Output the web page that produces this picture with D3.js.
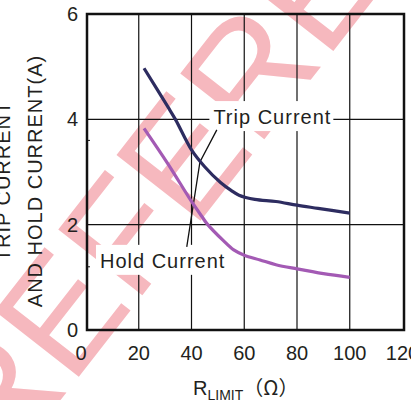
<!DOCTYPE html>
<html>
<head>
<meta charset="utf-8">
<script src="https://cdn.jsdelivr.net/npm/d3@7"></script>
<style>
	body { margin: 0; background: #fff; }
	text { font-family: "Liberation Sans", Arial, sans-serif; fill: #231f20; }
</style>
</head>
<body>
<script>
// values
var tripR = [22, 31, 34, 40, 45, 51, 55, 58, 64, 72, 80, 88, 100];
var tripI = [4.97, 4.24, 3.99, 3.42, 3.10, 2.80, 2.65, 2.56, 2.48, 2.44, 2.37, 2.31, 2.22];

var holdR = [22, 31, 40, 44, 46, 52, 56, 60, 66, 72, 80, 90, 100];
var holdI = [3.83, 3.16, 2.44, 2.15, 2.01, 1.70, 1.52, 1.42, 1.33, 1.24, 1.16, 1.07, 1.00];

var xTicks = [0, 20, 40, 60, 80, 100, 120];
var yTicks = [0, 2, 4, 6];
var yMinorTicks = [1.2, 3.6];

// leader line from the labels to the curves
var leaderR = [49.6, 43.2, 38.2];
var leaderI = [3.80, 3.19, 1.58];

var labels = ['Trip Current', 'Hold Current'];
var labelR = [48.3, 5.3];
var labelI = [3.91, 1.18];

var colours = {
	'trip': '#2d2c60',
	'hold': '#a35ab4'
};

var W = 411, H = 400;

var svg = d3.select('body').append('svg')
	.attr('width', W)
	.attr('height', H);

var x = d3.scaleLinear().domain([0, 120]).range([86, 402.5]);
var y = d3.scaleLinear().domain([0, 6]).range([330, 14]);

// watermark
svg.append('text')
	.attr('transform', 'translate(2,475) rotate(-52)')
	.style('font-size', '155px')
	.style('fill', '#f6b8be')
	.text('REFERENCE');

// grid
var grid = svg.append('g');
grid.selectAll('.vx')
	.data(xTicks.slice(1, -1)).enter()
	.append('line')
	.attr('x1', function(d) { return x(d); })
	.attr('x2', function(d) { return x(d); })
	.attr('y1', y(6))
	.attr('y2', y(0))
	.attr('stroke', '#111')
	.attr('stroke-width', 1.2);

grid.selectAll('.hy')
	.data(yTicks.slice(1, -1)).enter()
	.append('line')
	.attr('x1', x(0))
	.attr('x2', 404)
	.attr('y1', function(d) { return y(d); })
	.attr('y2', function(d) { return y(d); })
	.attr('stroke', '#111')
	.attr('stroke-width', 1.2);

grid.selectAll('.minor')
	.data(yMinorTicks).enter()
	.append('line')
	.attr('x1', x(0))
	.attr('x2', x(0) + 4)
	.attr('y1', function(d) { return y(d); })
	.attr('y2', function(d) { return y(d); })
	.attr('stroke', '#111')
	.attr('stroke-width', 1);

// label boxes + labels
var boxes = svg.append('g');
var labelG = svg.append('g');

for (var i = 0; i < labels.length; i++) {
	var t = labelG.append('text')
		.attr('x', x(labelR[i]))
		.attr('y', y(labelI[i]))
		.style('font-size', '20px')
		.style('letter-spacing', '1px')
		.text(labels[i]);
	var bb = t.node().getBBox();
	boxes.append('rect')
		.attr('x', bb.x - 4)
		.attr('y', bb.y - 5)
		.attr('width', bb.width + 6)
		.attr('height', bb.height + 8)
		.attr('fill', 'white');
}

// leader line
var leader = d3.line()
	.x(function(d) { return x(d[0]); })
	.y(function(d) { return y(d[1]); });

svg.append('path')
	.attr('d', leader(d3.zip(leaderR, leaderI)))
	.attr('fill', 'none')
	.attr('stroke', '#111')
	.attr('stroke-width', 1.3);

// curves
var curve = d3.line()
	.curve(d3.curveCatmullRom)
	.x(function(d) { return x(d[0]); })
	.y(function(d) { return y(d[1]); });

svg.append('path')
	.attr('d', curve(d3.zip(holdR, holdI)))
	.attr('fill', 'none')
	.attr('stroke', colours.hold)
	.attr('stroke-width', 3.2);

svg.append('path')
	.attr('d', curve(d3.zip(tripR, tripI)))
	.attr('fill', 'none')
	.attr('stroke', colours.trip)
	.attr('stroke-width', 3.2);

labelG.raise();

// frame
svg.append('rect')
	.attr('x', x(0) + 1)
	.attr('y', y(6))
	.attr('width', 404 - x(0) - 1)
	.attr('height', y(0) - y(6))
	.attr('fill', 'none')
	.attr('stroke', '#111')
	.attr('stroke-width', 2.5);

// tick labels
svg.selectAll('.xl')
	.data(xTicks).enter()
	.append('text')
	.attr('x', function(d) { return x(d) - (d == 0 ? 5 : 0); })
	.attr('y', 360)
	.attr('text-anchor', 'middle')
	.style('font-size', '20px')
	.text(function(d) { return d; });

svg.selectAll('.yl')
	.data(yTicks).enter()
	.append('text')
	.attr('x', 78)
	.attr('y', function(d) { return y(d) + 7; })
	.attr('text-anchor', 'end')
	.style('font-size', '20px')
	.text(function(d) { return d; });

// axis titles
var xt = svg.append('text')
	.attr('x', 193)
	.attr('y', 395)
	.style('font-size', '20px');
xt.append('tspan').text('R');
xt.append('tspan')
	.attr('dy', 5)
	.style('font-size', '14px')
	.text('LIMIT');
xt.append('tspan')
	.attr('dy', -5)
	.attr('dx', 0)
	.style('font-family', '"Noto Sans CJK JP"')
	.style('font-size', '20px')
	.text('（Ω）');

var yt = svg.append('g')
	.attr('transform', 'translate(0,181) rotate(-90)');
yt.append('text')
	.attr('x', 0)
	.attr('y', 10)
	.attr('text-anchor', 'middle')
	.style('font-size', '20px')
	.style('letter-spacing', '1px')
	.text('TRIP CURRENT');
yt.append('text')
	.attr('x', 0)
	.attr('y', 42)
	.attr('text-anchor', 'middle')
	.style('font-size', '20px')
	.style('letter-spacing', '1px')
	.text('AND HOLD CURRENT(A)');
</script>
</body>
</html>
